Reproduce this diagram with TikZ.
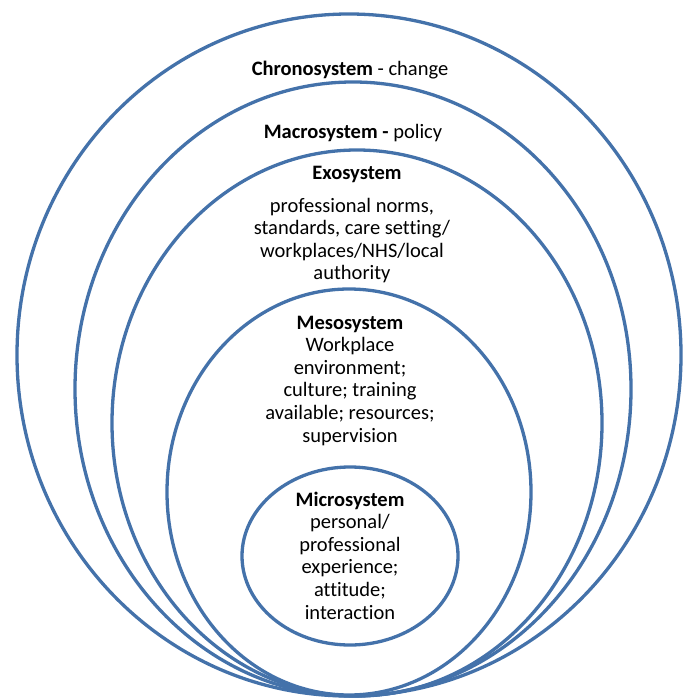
\documentclass[tikz,border=0pt]{standalone}
\usepackage{fontspec}
\setmainfont{Carlito}[Ligatures=NoCommon]
\definecolor{ringblue}{RGB}{68,114,170}
\begin{document}
\begin{tikzpicture}[x=1pt,y=-1pt,
  ring/.style={draw=ringblue,line width=3.3pt},
  lbl/.style={anchor=base,inner sep=0pt,font=\fontsize{20.5}{22.6}\selectfont}]
\useasboundingbox (0,0) rectangle (688,698);
\draw[ring] (349,355) ellipse [x radius=332,y radius=341];
\draw[ring] (353,389) ellipse [x radius=278,y radius=307];
\draw[ring] (357,423) ellipse [x radius=245,y radius=273];
\draw[ring] (349,492) ellipse [x radius=182,y radius=203];
\draw[ring] (350,556) ellipse [x radius=108,y radius=89];
\node[lbl] (chrono) at (350,76) {\textbf{Chronosystem} - change};
\node[lbl] (macro) at (353,138) {\textbf{Macrosystem -} policy};
\node[lbl] (exo) at (357,179) {\textbf{Exosystem}};
\node[lbl] (exotext) at (352,212) {\begin{tabular}[t]{@{}c@{}}professional norms,\\standards, care setting/\\workplaces/NHS/local\\authority\end{tabular}};
\node[lbl] (meso) at (350,329) {\begin{tabular}[t]{@{}c@{}}\textbf{Mesosystem}\\Workplace\\environment;\\culture; training\\available; resources;\\supervision\end{tabular}};
\node[lbl] (micro) at (350,506) {\begin{tabular}[t]{@{}c@{}}\textbf{Microsystem}\\personal/\\professional\\experience;\\attitude;\\interaction\end{tabular}};
\end{tikzpicture}
\end{document}
